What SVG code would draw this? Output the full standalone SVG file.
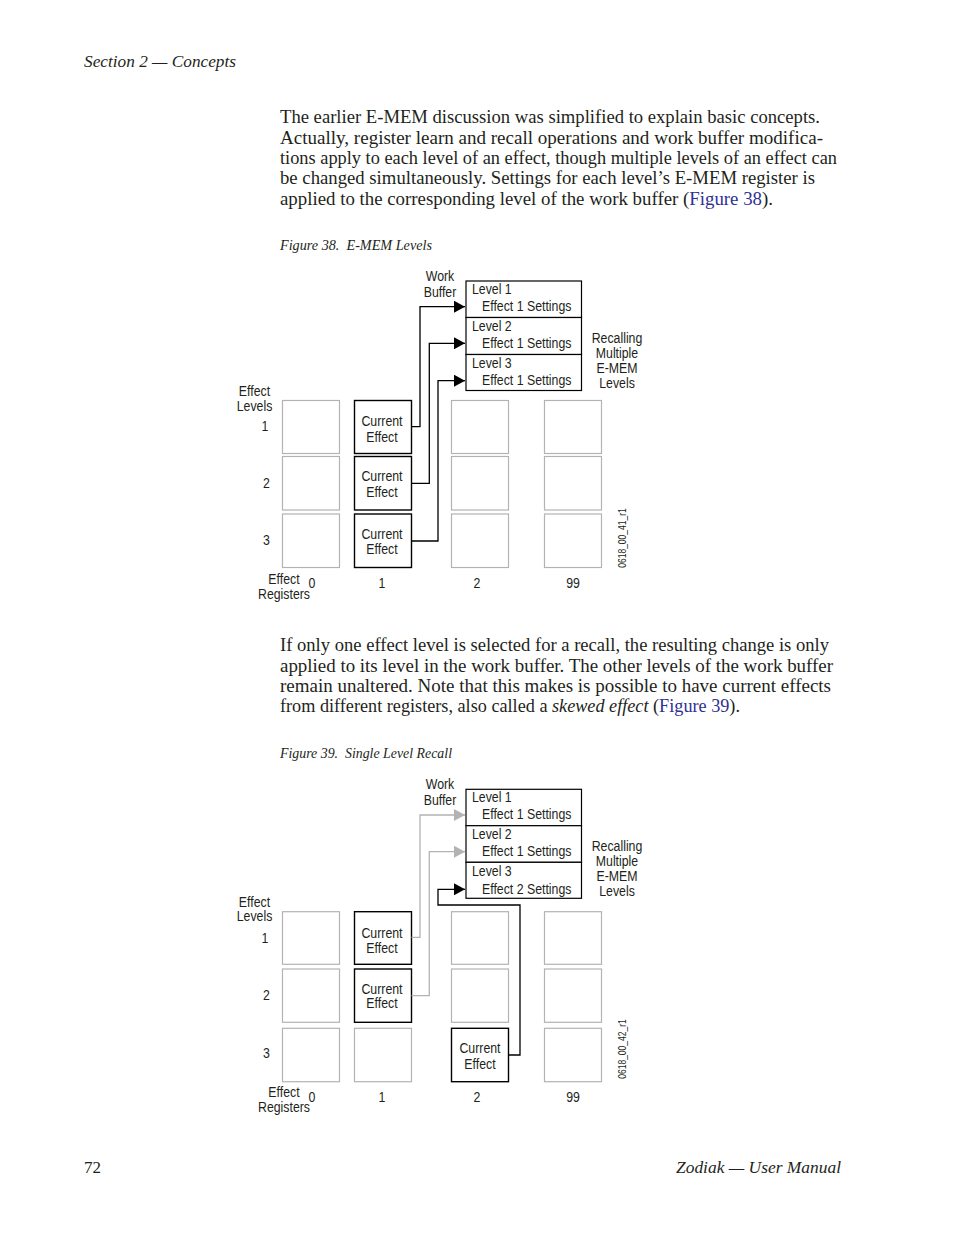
<svg xmlns="http://www.w3.org/2000/svg" width="954" height="1235" viewBox="0 0 954 1235">
<style>
.body{font-family:"Liberation Serif","Times New Roman",serif;font-size:18px;fill:#231f20}
.it{font-style:italic}
.link{fill:#2e3192}
.hdr{font-family:"Liberation Serif","Times New Roman",serif;font-style:italic;font-size:17px;fill:#231f20}
.cap{font-family:"Liberation Serif","Times New Roman",serif;font-style:italic;font-size:14px;fill:#231f20}
.lbl{font-family:"Liberation Sans Narrow","Arial Narrow","Liberation Sans",sans-serif;font-size:14.5px;fill:#231f20}
.mid{text-anchor:middle}
.id{font-family:"Liberation Sans",sans-serif;font-size:10px;fill:#231f20;text-anchor:middle}
.reg{fill:#fff;stroke:#b3b3b3;stroke-width:1.2}
.cur{fill:#fff;stroke:#000;stroke-width:1.4}
.wb{fill:#fff;stroke:#000;stroke-width:1.2}
.cb{fill:none;stroke:#000;stroke-width:1.3}
.cg{fill:none;stroke:#b3b3b3;stroke-width:1.3}
</style>
<defs>
<marker id="ab" markerUnits="userSpaceOnUse" markerWidth="11" markerHeight="12" refX="11" refY="6" orient="auto"><path d="M0,0 L11,6 L0,12 z" fill="#000"/></marker>
<marker id="ag" markerUnits="userSpaceOnUse" markerWidth="11" markerHeight="12" refX="11" refY="6" orient="auto"><path d="M0,0 L11,6 L0,12 z" fill="#b3b3b3"/></marker>
</defs>

<!-- header / footer -->
<text class="hdr" x="84" y="67" textLength="152" lengthAdjust="spacingAndGlyphs">Section 2 — Concepts</text>
<text class="hdr" x="84" y="1173" textLength="17" lengthAdjust="spacingAndGlyphs" style="font-style:normal">72</text>
<text class="hdr" x="676" y="1173" textLength="165" lengthAdjust="spacingAndGlyphs">Zodiak — User Manual</text>

<!-- paragraph 1 -->
<text class="body" x="280" y="123" textLength="540" lengthAdjust="spacingAndGlyphs">The earlier E-MEM discussion was simplified to explain basic concepts.</text>
<text class="body" x="280" y="143.5" textLength="543" lengthAdjust="spacingAndGlyphs">Actually, register learn and recall operations and work buffer modifica-</text>
<text class="body" x="280" y="164" textLength="557" lengthAdjust="spacingAndGlyphs">tions apply to each level of an effect, though multiple levels of an effect can</text>
<text class="body" x="280" y="184" textLength="535" lengthAdjust="spacingAndGlyphs">be changed simultaneously. Settings for each level’s E-MEM register is</text>
<text class="body" x="280" y="204.5" textLength="493" lengthAdjust="spacingAndGlyphs">applied to the corresponding level of the work buffer (<tspan class="link">Figure 38</tspan>).</text>

<text class="cap" x="280" y="250" textLength="152" lengthAdjust="spacingAndGlyphs" xml:space="preserve">Figure 38.  E-MEM Levels</text>

<!-- Figure 38 -->
<g id="fig38">
<g id="f38-labels">
<text class="lbl mid" transform="translate(440,281) scale(.85 1)">Work</text>
<text class="lbl mid" transform="translate(440,297) scale(.85 1)">Buffer</text>
<text class="lbl mid" transform="translate(617,342.5) scale(.85 1)">Recalling</text>
<text class="lbl mid" transform="translate(617,357.5) scale(.85 1)">Multiple</text>
<text class="lbl mid" transform="translate(617,372.5) scale(.85 1)">E-MEM</text>
<text class="lbl mid" transform="translate(617,388) scale(.85 1)">Levels</text>
<text class="lbl mid" transform="translate(254.5,396) scale(.85 1)">Effect</text>
<text class="lbl mid" transform="translate(254.5,410.5) scale(.85 1)">Levels</text>
<text class="lbl mid" transform="translate(265,431) scale(.85 1)">1</text>
<text class="lbl mid" transform="translate(266.5,487.5) scale(.85 1)">2</text>
<text class="lbl mid" transform="translate(266.5,544.5) scale(.85 1)">3</text>
<text class="lbl mid" transform="translate(284,583.5) scale(.85 1)">Effect</text>
<text class="lbl mid" transform="translate(284,599) scale(.85 1)">Registers</text>
<text class="lbl mid" transform="translate(312,588) scale(.85 1)">0</text>
<text class="lbl mid" transform="translate(382,588) scale(.85 1)">1</text>
<text class="lbl mid" transform="translate(477,588) scale(.85 1)">2</text>
<text class="lbl mid" transform="translate(573,588) scale(.85 1)">99</text>
<text class="id" transform="translate(626,538) rotate(-90) scale(.85 1)">0618_00_41_r1</text>
</g>
<g id="f38-wb">
<rect class="wb" x="466" y="281" width="115.5" height="36.5"/>
<rect class="wb" x="466" y="317.5" width="115.5" height="37"/>
<rect class="wb" x="466" y="354.5" width="115.5" height="36"/>
<text class="lbl" transform="translate(472,293.5) scale(.85 1)">Level 1</text>
<text class="lbl" transform="translate(482,311) scale(.85 1)">Effect 1 Settings</text>
<text class="lbl" transform="translate(472,330.5) scale(.85 1)">Level 2</text>
<text class="lbl" transform="translate(482,348) scale(.85 1)">Effect 1 Settings</text>
<text class="lbl" transform="translate(472,367.5) scale(.85 1)">Level 3</text>
<text class="lbl" transform="translate(482,385) scale(.85 1)">Effect 1 Settings</text>
</g>
<g id="f38-grid">
<rect class="reg" x="282.5" y="400.5" width="57" height="53"/>
<rect class="reg" x="282.5" y="456.5" width="57" height="53.5"/>
<rect class="reg" x="282.5" y="514" width="57" height="53.5"/>
<rect class="cur" x="354.5" y="400.5" width="57" height="53"/>
<rect class="cur" x="354.5" y="456.5" width="57" height="53.5"/>
<rect class="cur" x="354.5" y="514" width="57" height="53.5"/>
<rect class="reg" x="451.5" y="400.5" width="57" height="53"/>
<rect class="reg" x="451.5" y="456.5" width="57" height="53.5"/>
<rect class="reg" x="451.5" y="514" width="57" height="53.5"/>
<rect class="reg" x="544.5" y="400.5" width="57" height="53"/>
<rect class="reg" x="544.5" y="456.5" width="57" height="53.5"/>
<rect class="reg" x="544.5" y="514" width="57" height="53.5"/>
<text class="lbl mid" transform="translate(382,426) scale(.85 1)">Current</text>
<text class="lbl mid" transform="translate(382,441.5) scale(.85 1)">Effect</text>
<text class="lbl mid" transform="translate(382,481) scale(.85 1)">Current</text>
<text class="lbl mid" transform="translate(382,496.5) scale(.85 1)">Effect</text>
<text class="lbl mid" transform="translate(382,538.5) scale(.85 1)">Current</text>
<text class="lbl mid" transform="translate(382,554) scale(.85 1)">Effect</text>
</g>
</g>
<g id="f38-connectors">
<path class="cb" d="M411.5,426.7 H420 V306.7 H465" marker-end="url(#ab)"/>
<path class="cb" d="M411.5,483.3 H429.3 V343.3 H465" marker-end="url(#ab)"/>
<path class="cb" d="M411.5,541 H438 V380.7 H465" marker-end="url(#ab)"/>
</g>

<!-- paragraph 2 -->
<text class="body" x="280" y="651" textLength="549" lengthAdjust="spacingAndGlyphs">If only one effect level is selected for a recall, the resulting change is only</text>
<text class="body" x="280" y="671.5" textLength="553" lengthAdjust="spacingAndGlyphs">applied to its level in the work buffer. The other levels of the work buffer</text>
<text class="body" x="280" y="692" textLength="551" lengthAdjust="spacingAndGlyphs">remain unaltered. Note that this makes is possible to have current effects</text>
<text class="body" x="280" y="712" textLength="460" lengthAdjust="spacingAndGlyphs">from different registers, also called a <tspan class="it">skewed effect</tspan> (<tspan class="link">Figure 39</tspan>).</text>

<text class="cap" x="280" y="758" textLength="172" lengthAdjust="spacingAndGlyphs" xml:space="preserve">Figure 39.  Single Level Recall</text>

<!-- Figure 39 -->
<g id="fig39">
<g id="f39-labels">
<text class="lbl mid" transform="translate(440,789) scale(.85 1)">Work</text>
<text class="lbl mid" transform="translate(440,805) scale(.85 1)">Buffer</text>
<text class="lbl mid" transform="translate(617,850.5) scale(.85 1)">Recalling</text>
<text class="lbl mid" transform="translate(617,865.5) scale(.85 1)">Multiple</text>
<text class="lbl mid" transform="translate(617,880.5) scale(.85 1)">E-MEM</text>
<text class="lbl mid" transform="translate(617,896) scale(.85 1)">Levels</text>
<text class="lbl mid" transform="translate(254.5,906.5) scale(.85 1)">Effect</text>
<text class="lbl mid" transform="translate(254.5,921) scale(.85 1)">Levels</text>
<text class="lbl mid" transform="translate(265,942.5) scale(.85 1)">1</text>
<text class="lbl mid" transform="translate(266.5,999.5) scale(.85 1)">2</text>
<text class="lbl mid" transform="translate(266.5,1057.5) scale(.85 1)">3</text>
<text class="lbl mid" transform="translate(284,1096.5) scale(.85 1)">Effect</text>
<text class="lbl mid" transform="translate(284,1112) scale(.85 1)">Registers</text>
<text class="lbl mid" transform="translate(312,1101.5) scale(.85 1)">0</text>
<text class="lbl mid" transform="translate(382,1101.5) scale(.85 1)">1</text>
<text class="lbl mid" transform="translate(477,1101.5) scale(.85 1)">2</text>
<text class="lbl mid" transform="translate(573,1101.5) scale(.85 1)">99</text>
<text class="id" transform="translate(626,1049) rotate(-90) scale(.85 1)">0618_00_42_r1</text>
</g>
<g id="f39-wb">
<rect class="wb" x="466" y="789.3" width="115.5" height="36.4"/>
<rect class="wb" x="466" y="825.7" width="115.5" height="36.6"/>
<rect class="wb" x="466" y="862.3" width="115.5" height="36"/>
<text class="lbl" transform="translate(472,801.5) scale(.85 1)">Level 1</text>
<text class="lbl" transform="translate(482,819) scale(.85 1)">Effect 1 Settings</text>
<text class="lbl" transform="translate(472,838.5) scale(.85 1)">Level 2</text>
<text class="lbl" transform="translate(482,856) scale(.85 1)">Effect 1 Settings</text>
<text class="lbl" transform="translate(472,875.5) scale(.85 1)">Level 3</text>
<text class="lbl" transform="translate(482,893.5) scale(.85 1)">Effect 2 Settings</text>
</g>
<g id="f39-grid">
<rect class="reg" x="282.5" y="911.7" width="57" height="52.6"/>
<rect class="reg" x="282.5" y="969" width="57" height="53.3"/>
<rect class="reg" x="282.5" y="1028.3" width="57" height="53.4"/>
<rect class="cur" x="354.5" y="911.7" width="57" height="52.6"/>
<rect class="cur" x="354.5" y="969" width="57" height="53.3"/>
<rect class="reg" x="354.5" y="1028.3" width="57" height="53.4"/>
<rect class="reg" x="451.5" y="911.7" width="57" height="52.6"/>
<rect class="reg" x="451.5" y="969" width="57" height="53.3"/>
<rect class="cur" x="451.5" y="1028.3" width="57" height="53.4"/>
<rect class="reg" x="544.5" y="911.7" width="57" height="52.6"/>
<rect class="reg" x="544.5" y="969" width="57" height="53.3"/>
<rect class="reg" x="544.5" y="1028.3" width="57" height="53.4"/>
<text class="lbl mid" transform="translate(382,937.7) scale(.85 1)">Current</text>
<text class="lbl mid" transform="translate(382,952.5) scale(.85 1)">Effect</text>
<text class="lbl mid" transform="translate(382,993.5) scale(.85 1)">Current</text>
<text class="lbl mid" transform="translate(382,1008) scale(.85 1)">Effect</text>
<text class="lbl mid" transform="translate(480,1053.3) scale(.85 1)">Current</text>
<text class="lbl mid" transform="translate(480,1068.5) scale(.85 1)">Effect</text>
</g>
</g>
<g id="f39-connectors">
<path class="cg" d="M411.5,937.3 H420 V815 H465" marker-end="url(#ag)"/>
<path class="cg" d="M411.5,995.7 H429.3 V851.7 H465" marker-end="url(#ag)"/>
<path class="cb" d="M508.5,1055 H520 V905 H438 V889.3 H465" marker-end="url(#ab)"/>
</g>
</svg>
